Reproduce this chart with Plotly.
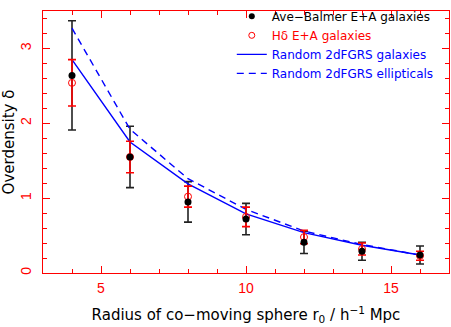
import plotly.graph_objects as go

# Radius of co-moving sphere (h^-1 Mpc)
r0 = [4, 6, 8, 10, 12, 14, 16]

# Ave-Balmer E+A galaxies (filled black)
ab_delta = [2.64, 1.55, 0.95, 0.72, 0.41, 0.29, 0.24]
ab_err = [0.73, 0.41, 0.27, 0.21, 0.15, 0.12, 0.12]

# Hdelta E+A galaxies (open red)
hd_delta = [2.54, 1.55, 1.02, 0.75, 0.48, 0.32, 0.23]
hd_err = [0.31, 0.21, 0.14, 0.13, 0.09, 0.08, 0.06]

# Random 2dFGRS samples
rand_gal = [2.85, 1.75, 1.19, 0.79, 0.54, 0.37, 0.24]
rand_ell = [3.27, 1.92, 1.26, 0.85, 0.56, 0.38, 0.24]

FONT = "Liberation Sans, Arial, sans-serif"
WIDE = "DejaVu Sans, sans-serif"
RED = "#ff0000"
BLUE = "#0000ff"

fig = go.Figure()

# black error bars go under everything else
fig.add_trace(go.Scatter(
    x=r0, y=ab_delta, mode="markers",
    marker=dict(size=1, color="rgba(0,0,0,0)"),
    error_y=dict(type="data", array=ab_err, color="#222222", thickness=1.6, width=4),
    showlegend=False, hoverinfo="skip",
))

fig.add_trace(go.Scatter(
    x=r0, y=rand_gal, mode="lines",
    line=dict(color=BLUE, width=1.4),
    showlegend=False,
))
fig.add_trace(go.Scatter(
    x=r0, y=rand_ell, mode="lines",
    line=dict(color=BLUE, width=1.4, dash="7px,5px"),
    showlegend=False,
))

fig.add_trace(go.Scatter(
    x=r0, y=hd_delta, mode="markers",
    marker=dict(symbol="circle-open", size=7, color=RED, line=dict(width=1)),
    error_y=dict(type="data", array=hd_err, color=RED, thickness=1.6, width=4),
    showlegend=False,
))
fig.add_trace(go.Scatter(
    x=r0, y=ab_delta, mode="markers",
    marker=dict(symbol="circle", size=7, color="black"),
    showlegend=False,
))

# legend-only copies so the entries come out in the reference order
fig.add_trace(go.Scatter(
    x=[None], y=[None], mode="markers",
    marker=dict(symbol="circle", size=6, color="black"),
    name="Ave−Balmer E+A galaxies",
))
fig.add_trace(go.Scatter(
    x=[None], y=[None], mode="markers",
    marker=dict(symbol="circle-open", size=6, color=RED, line=dict(width=1)),
    name="<span style='color:#ff0000'>Hδ E+A galaxies</span>",
))
fig.add_trace(go.Scatter(
    x=[None], y=[None], mode="lines",
    line=dict(color=BLUE, width=1.4),
    name="<span style='color:#0000ff'>Random 2dFGRS galaxies</span>",
))
fig.add_trace(go.Scatter(
    x=[None], y=[None], mode="lines",
    line=dict(color=BLUE, width=1.4, dash="7px,5px"),
    name="<span style='color:#0000ff'>Random 2dFGRS ellipticals</span>",
))

axis_common = dict(
    showline=True, linecolor=RED, linewidth=1.2, mirror="ticks",
    ticks="inside", tickcolor=RED, tickwidth=1.2,
    showgrid=False, zeroline=False, automargin=False,
    tickfont=dict(family=FONT, size=14, color=RED),
)

fig.update_xaxes(
    range=[3, 17], dtick=5, tick0=0, ticklen=7, ticklabelstandoff=2,
    minor=dict(dtick=1, tick0=0, ticks="inside", ticklen=4, tickcolor=RED, tickwidth=1.2),
    title=dict(text="Radius of co−moving sphere r<sub>0</sub> / h<sup>−1</sup> Mpc",
               font=dict(family=WIDE, size=15, color="black"), standoff=14),
    **axis_common,
)
fig.update_yaxes(
    range=[0, 3.5], dtick=1, tick0=0, ticklen=7, tickangle=-90, ticklabelstandoff=5,
    minor=dict(dtick=0.2, tick0=0, ticks="inside", ticklen=4, tickcolor=RED, tickwidth=1.2),
    title=dict(text="Overdensity δ", font=dict(family=WIDE, size=15, color="black"), standoff=9),
    **axis_common,
)

fig.update_layout(
    width=451, height=327,
    margin=dict(l=43, r=2, t=2, b=54),
    plot_bgcolor="white", paper_bgcolor="white",
    font=dict(family=FONT, size=14, color="black"),
    legend=dict(
        x=0.465, y=1.035, xanchor="left", yanchor="top",
        bgcolor="rgba(0,0,0,0)", borderwidth=0,
        font=dict(family=WIDE, size=12, color="black"),
        itemwidth=30, tracegroupgap=0,
    ),
)

# drop the default page margin so the figure sits at the window's corner
fig.write_html("out.html", config={"displayModeBar": False},
               post_script="document.body.style.margin='0';")
